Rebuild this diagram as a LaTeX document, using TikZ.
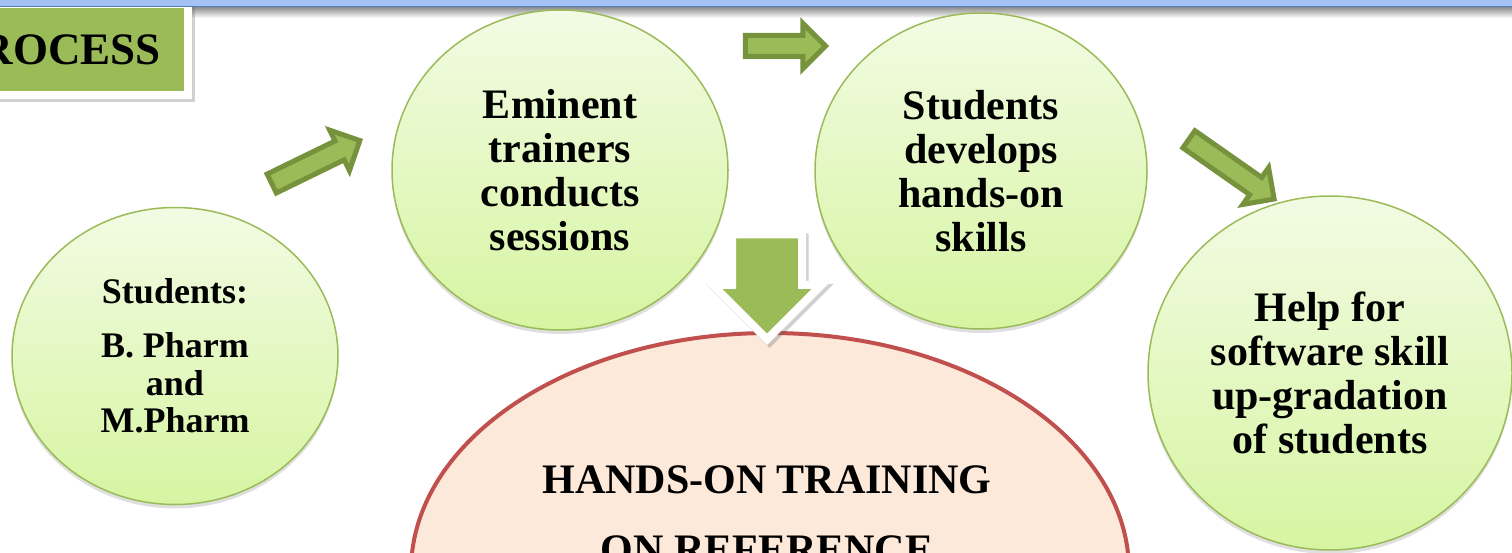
\documentclass[tikz,border=0pt]{standalone}
\usepackage{fontspec}
\setmainfont{Liberation Serif}
\usetikzlibrary{shapes.geometric,shapes.arrows,shadows}
\definecolor{barblue}{HTML}{A4C2F4}
\definecolor{baredge}{HTML}{4F81BD}
\definecolor{leafgreen}{HTML}{9BBB59}
\definecolor{leafdark}{HTML}{76923C}
\definecolor{leaftop}{HTML}{F2FBE3}
\definecolor{leafbot}{HTML}{D6F5A2}
\definecolor{peach}{HTML}{FDE9DA}
\definecolor{brick}{HTML}{C0504D}
\tikzset{
  stage/.style={ellipse, draw=leafgreen, line width=1.5pt, top color=leaftop, bottom color=leafbot,
    inner sep=0pt, align=center, font=\bfseries\fontsize{42}{44}\selectfont,
    drop shadow={opacity=0.25, shadow xshift=0pt, shadow yshift=-4pt}},
  flow/.style={single arrow, draw=leafdark, fill=leafgreen, line width=5pt, inner sep=8pt,
    single arrow head extend=12pt, minimum width=40pt, anchor=tip},
  framed/.style={draw=white, line width=8pt,
    drop shadow={opacity=0.3, shadow xshift=2.5pt, shadow yshift=-3pt, draw=black!60, line width=8pt}},
  banner/.style={font=\bfseries\fontsize{42}{44}\selectfont, anchor=base}
}
\begin{document}
\begin{tikzpicture}[x=1pt,y=-1pt]
\useasboundingbox (0,0) rectangle (1512,553);
\clip (0,0) rectangle (1512,553);
\shade[top color=black!45, bottom color=white] (0,7) rectangle (1512,18);
\node[framed, anchor=base east, fill=leafgreen, text height=31pt, text depth=0pt,
  inner xsep=27pt, inner ysep=30pt, font=\bfseries\fontsize{45}{50}\selectfont] (proc) at (192,65) {PROCESS};
\fill[barblue] (0,0) rectangle (1512,6);
\draw[baredge, line width=1.5pt] (0,6.5) -- (1512,6.5);

\node[stage, minimum width=326pt, minimum height=297pt, font=\bfseries\fontsize{36}{37.5}\selectfont]
  (learners) at (175,356) {Students:\\[17pt]B. Pharm\\and\\M.Pharm};
\node[stage, minimum width=336pt, minimum height=320pt] (trainers) at (560,170) {Eminent\\trainers\\conducts\\sessions};
\node[stage, minimum width=332pt, minimum height=316pt] (skills) at (981,171) {Students\\develops\\hands-on\\skills};
\node[stage, minimum width=364pt, minimum height=354pt] (upgrade) at (1330,373) {Help for\\software skill\\up-gradation\\of students};

\node[ellipse, draw=brick, fill=peach, line width=4pt, minimum width=718pt, minimum height=476pt] (training) at (770,571) {};
\node[banner] (title1) at (767,493) {HANDS-ON TRAINING};
\node[banner] (title2) at (767,563) {ON REFERENCE};

\node[framed, single arrow, shape border rotate=270, fill=leafgreen, inner sep=31pt,
  single arrow head extend=19.5pt, minimum height=101pt, minimum width=101pt, anchor=tip] (down) at (767,345) {};

\node[flow, rotate=26, minimum height=98pt] (step1) at (363,139) {};
\node[flow, minimum height=80pt] (step2) at (829,46) {};
\node[flow, rotate=-35, minimum height=104pt] (step3) at (1277,201) {};
\end{tikzpicture}
\end{document}
